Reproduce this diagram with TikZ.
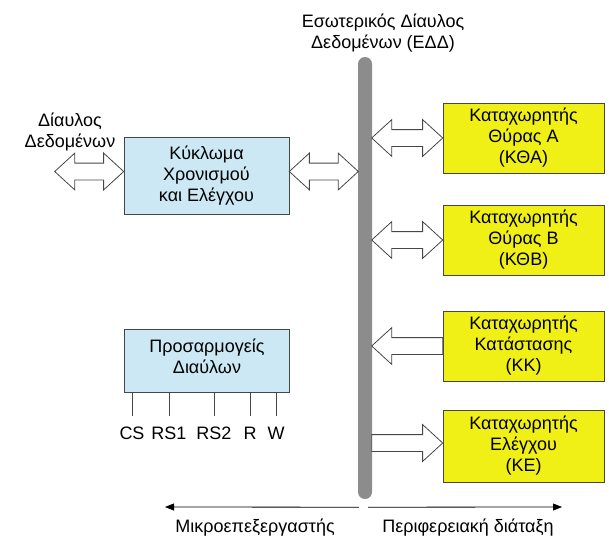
\documentclass[tikz,border=0pt]{standalone}
\usepackage{fontspec}
\setmainfont{Liberation Sans}
\usetikzlibrary{shapes.arrows,arrows.meta,positioning,calc}
\definecolor{ctlblue}{RGB}{204,232,244}
\definecolor{regyellow}{RGB}{240,240,22}
\definecolor{busgray}{RGB}{140,140,140}
\definecolor{edgegray}{RGB}{70,70,70}
\newcommand{\txt}{\fontsize{18}{21}\selectfont}
\tikzstyle{blk}=[rectangle,draw=edgegray,fill=ctlblue,align=center,minimum width=165pt,font=\txt,line width=0.6pt]
\tikzstyle{reg}=[rectangle,draw=edgegray,fill=regyellow,align=center,minimum width=161pt,minimum height=70pt,font=\txt,line width=0.6pt]
\tikzstyle{fat}=[double arrow,draw=edgegray,fill=white,line width=0.8pt,inner sep=8pt,outer sep=0pt,double arrow head extend=10pt,double arrow tip angle=85,anchor=west]
\tikzstyle{one}=[single arrow,draw=edgegray,fill=white,line width=0.8pt,inner sep=8pt,outer sep=0pt,single arrow head extend=10pt,single arrow tip angle=85]
\tikzstyle{lbl}=[align=center,font=\txt]
\tikzstyle{arr}=[-{Triangle[length=9pt,width=7pt]},thick]

\begin{document}
\begin{tikzpicture}[x=1pt,y=-1pt]
\useasboundingbox (0,0) rectangle (609,538);
\node (bus) [fill=busgray,rounded corners=7pt,minimum width=14pt,minimum height=442pt,inner sep=0pt] at (365,278) {};
\node (ttl) [lbl] at (383,33) {Εσωτερικός Δίαυλος\\Δεδομένων (ΕΔΔ)};
\node (ctl) [blk,minimum height=77pt] at (206.5,175.5) {Κύκλωμα\\Χρονισμού\\και Ελέγχου};
\node (adp) [blk,minimum height=63pt,text depth=8pt] at (207,360.5) {Προσαρμογείς\\Διαύλων};
\node (dbus) [lbl] at (70,132) {Δίαυλος\\Δεδομένων};
\node (kta) [reg] at (523.5,138) {Καταχωρητής\\Θύρας Α\\(ΚΘΑ)};
\node (ktb) [reg] at (523.5,240) {Καταχωρητής\\Θύρας Β\\(ΚΘΒ)};
\node (kk) [reg] at (523.5,346) {Καταχωρητής\\Κατάστασης\\(ΚΚ)};
\node (ke) [reg,minimum height=72pt] at (523.5,446) {Καταχωρητής\\Ελέγχου\\(ΚΕ)};
\node (d0) [fat,minimum height=69pt,anchor=east] at ($(ctl.west)+(0,-4)$) {};
\node (d1) [fat,minimum height=69pt] at ($(ctl.east)+(0,-4)$) {};
\node (d2) [fat,minimum height=71pt,anchor=east] at (kta.west) {};
\node (d3) [fat,minimum height=71pt,anchor=east] at (ktb.west) {};
\node (s1) [one,minimum height=71pt,shape border rotate=180,anchor=east] at (kk.west) {};
\node (s2) [one,minimum height=71pt,anchor=east] at ($(ke.west)+(0,-3)$) {};
\foreach \n/\x in {CS/132,RS1/169,RS2/214,R/250,W/276}{
  \node (p\n) [font=\txt,anchor=north,inner xsep=0pt,inner ysep=11pt] at (\x,416) {\n};
  \draw [edgegray,line width=0.6pt] (adp.south -| p\n) -- (p\n.north);
}
\node (mp) [lbl] at (255,528) {Μικροεπεξεργαστής};
\node (pd) [lbl] at (468,528) {Περιφερειακή διάταξη};
\coordinate (lend) at (165,507);
\coordinate (rend) at (562,507);
\draw [arr] ($(bus.south)+(-6,8)$) -- (lend);
\draw [arr] ($(bus.south)+(3,8)$) -- (rend);
\end{tikzpicture}
\end{document}
